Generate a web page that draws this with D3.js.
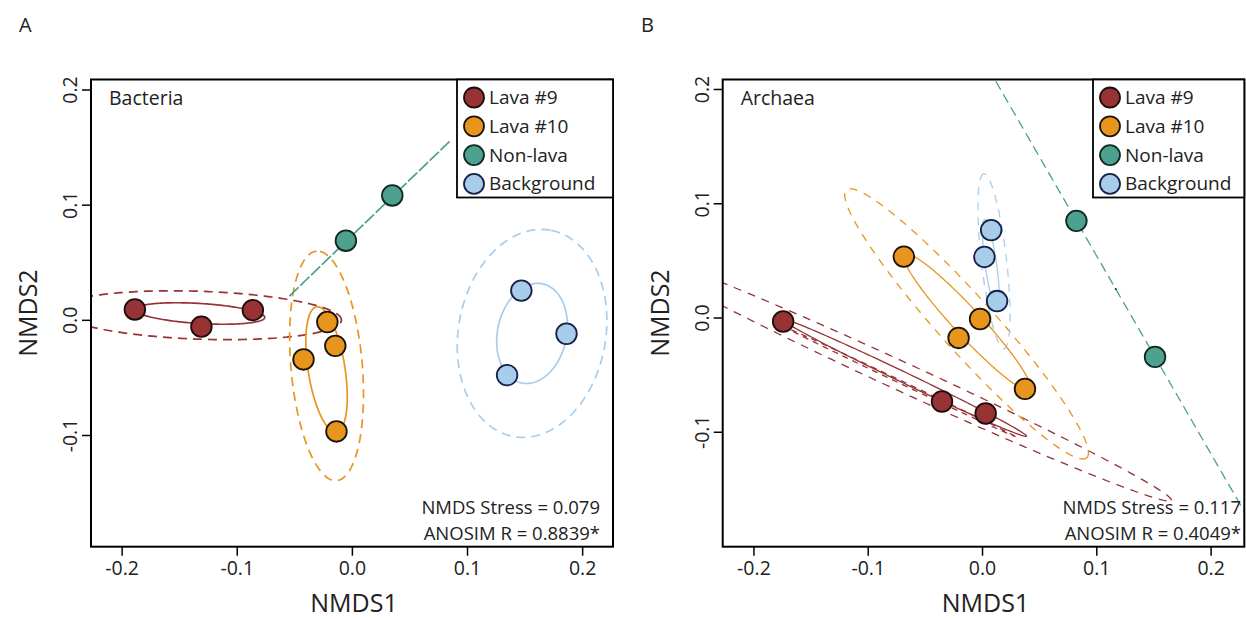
<!DOCTYPE html>
<html>
<head>
<meta charset="utf-8">
<script src="https://cdn.jsdelivr.net/npm/d3@7"></script>
<style>
body { margin: 0; background: #fff; }
text { font-family: "Open Sans", sans-serif; fill: #222; }
</style>
</head>
<body>
<svg id="chart" width="1246" height="619"></svg>
<script>
// groups and colours
var groups = ["Lava #9", "Lava #10", "Non-lava", "Background"];
var fills = ["#983335", "#E8951F", "#4EA08F", "#A8CDEB"];
var rims = ["#1c0c0c", "#1c1408", "#0f2a20", "#16204a"];

var xTickValues = [-0.2, -0.1, 0.0, 0.1, 0.2];
var xTickLabels = ["-0.2", "-0.1", "0.0", "0.1", "0.2"];
var yTickValues = [-0.1, 0.0, 0.1, 0.2];
var yTickLabels = ["-0.1", "0.0", "0.1", "0.2"];

// Bacteria NMDS scores, one list per group
var bactX = [[-0.1885, -0.1307, -0.0860], [-0.0213, -0.0144, -0.0420, -0.0134], [-0.0052, 0.0351], [0.1472, 0.1864, 0.1348]];
var bactY = [[0.0090, -0.0059, 0.0084], [-0.0019, -0.0226, -0.0344, -0.0969], [0.0687, 0.1080], [0.0254, -0.0121, -0.0480]];

// Archaea NMDS scores
var archX = [[-0.1740, -0.0350, 0.0032], [-0.0684, -0.0205, -0.0017, 0.0376], [0.0826, 0.1514], [0.0080, 0.0021, 0.0132]];
var archY = [[-0.0035, -0.0735, -0.0840], [0.0533, -0.0179, -0.0013, -0.0625], [0.0846, -0.0345], [0.0765, 0.0530, 0.0144]];

// ellipses: [centre x, centre y, semi-axis a, semi-axis b, angle in degrees]
var bactSdEll = [[-0.132, 0.0055, 0.0564, 0.0087, -3.5], [-0.022, -0.043, 0.055, 0.016, 99], null, [0.1565, -0.0118, 0.044, 0.030, 78]];
var bactCiEll = [[-0.132, 0.004, 0.123, 0.0208, -2], [-0.022, -0.040, 0.100, 0.031, 95], [0.015, 0.0875, 0.0972, 0, 44], [0.1565, -0.0118, 0.091, 0.064, 80]];

var archSdEll = [[-0.0683, -0.0525, 0.1189, 0.0046, -25.6], [-0.0131, -0.0039, 0.081, 0.012, -47.2], null, [0.0078, 0.046, 0.040, 0.005, 98]];
var archCiEll = [[-0.0683, -0.0525, 0.2576, 0.0125, -24.7], [-0.0135, -0.0056, 0.1574, 0.024, -48.1], [0.117, 0.025, 0.35, 0, -60], [0.0105, 0.0492, 0.0771, 0.011, 96.6]];
var archSeEll = [[-0.0696, -0.0573, 0.109, 0.0013, -25.4], null, null, null];
var archCentroid = [0.117, 0.025];

var svg = d3.select("#chart");

function ellipsePath(e, x, y) {
    var pts = [], th = e[4] * Math.PI / 180;
    for (var i = 0; i < 240; i++) {
        var t = i / 240 * 2 * Math.PI,
            u = e[2] * Math.cos(t),
            v = e[3] * Math.sin(t);
        pts.push([x(e[0] + u * Math.cos(th) - v * Math.sin(th)),
                  y(e[1] + u * Math.sin(th) + v * Math.cos(th))]);
    }
    return d3.line().curve(d3.curveLinearClosed)(pts);
}

function drawPanel(p) {
    var g = svg.append("g");
    var x = d3.scaleLinear().domain(p.xDomain).range([p.left, p.right]);
    var y = d3.scaleLinear().domain(p.yDomain).range([p.bottom, p.top]);

    g.append("text").attr("x", p.letterX).attr("y", 32)
        .style("font-size", "20px").text(p.letter);

    g.append("clipPath").attr("id", "clip" + p.letter)
        .append("rect").attr("x", p.left).attr("y", p.top)
        .attr("width", p.right - p.left).attr("height", p.bottom - p.top);

    var plot = g.append("g").attr("clip-path", "url(#clip" + p.letter + ")");

    // dashed confidence ellipses, then thin se ones, then solid sd ones
    p.ci.forEach(function(e, i) {
        if (!e) return;
        plot.append("path").attr("d", ellipsePath(e, x, y))
            .attr("fill", "none").attr("stroke", fills[i])
            .attr("stroke-width", p.lw).attr("stroke-dasharray", p.dash);
    });
    (p.se || []).forEach(function(e, i) {
        if (!e) return;
        plot.append("path").attr("d", ellipsePath(e, x, y))
            .attr("fill", "none").attr("stroke", fills[i])
            .attr("stroke-width", p.lw).attr("stroke-dasharray", "6,5");
    });
    p.sd.forEach(function(e, i) {
        if (!e) return;
        plot.append("path").attr("d", ellipsePath(e, x, y))
            .attr("fill", "none").attr("stroke", fills[i])
            .attr("stroke-width", p.lw);
    });

    if (p.centroid) {
        plot.append("circle").attr("cx", x(p.centroid[0])).attr("cy", y(p.centroid[1]))
            .attr("r", 1).attr("fill", "#222");
    }

    // points
    var pts = [];
    p.xs.forEach(function(xs, i) {
        xs.forEach(function(v, j) { pts.push({g: i, x: v, y: p.ys[i][j]}); });
    });
    plot.selectAll(".pt").data(pts).enter().append("circle")
        .attr("class", "pt")
        .attr("cx", function(d) { return x(d.x); })
        .attr("cy", function(d) { return y(d.y); })
        .attr("r", 10.3)
        .attr("fill", function(d) { return fills[d.g]; })
        .attr("stroke", function(d) { return rims[d.g]; })
        .attr("stroke-width", 1.8);

    // box
    g.append("rect").attr("x", p.left).attr("y", p.top)
        .attr("width", p.right - p.left).attr("height", p.bottom - p.top)
        .attr("fill", "none").attr("stroke", "#000").attr("stroke-width", 2);

    // axes
    var xa = g.append("g").attr("transform", "translate(0," + p.bottom + ")")
        .call(d3.axisBottom(x).tickValues(xTickValues).tickSize(9)
            .tickFormat(function(d, i) { return xTickLabels[i]; }));
    xa.select(".domain").remove();
    xa.selectAll("line").attr("stroke", "#000").attr("stroke-width", 1.5);
    xa.selectAll("text").attr("y", 28).attr("dy", 0)
        .style("font-size", "19.5px").style("font-family", "Open Sans").attr("fill", "#222");

    var ya = g.append("g").attr("transform", "translate(" + p.left + ",0)")
        .call(d3.axisLeft(y).tickValues(yTickValues).tickSize(9)
            .tickFormat(function(d, i) { return yTickLabels[i]; }));
    ya.select(".domain").remove();
    ya.selectAll("line").attr("stroke", "#000").attr("stroke-width", 1.5);
    ya.selectAll("text").attr("x", 0).attr("y", -14).attr("dy", 0)
        .attr("text-anchor", "middle").attr("transform", "rotate(-90)")
        .style("font-size", "19.5px").style("font-family", "Open Sans").attr("fill", "#222");

    g.append("text").attr("x", (p.left + p.right) / 2 + 2).attr("y", 612)
        .attr("text-anchor", "middle").style("font-size", "25px").text("NMDS1");
    g.append("text").attr("transform", "translate(" + (p.left - 54) + "," + ((p.top + p.bottom) / 2) + ") rotate(-90)")
        .attr("text-anchor", "middle").style("font-size", "25px").text("NMDS2");

    g.append("text").attr("x", p.left + 18).attr("y", p.top + 25)
        .style("font-size", "19.5px").text(p.title);

    // legend
    var lg = g.append("g");
    lg.append("rect").attr("x", p.legendLeft).attr("y", p.top)
        .attr("width", p.legendRight - p.legendLeft).attr("height", 118)
        .attr("fill", "#fff").attr("stroke", "#000").attr("stroke-width", 1.8);
    groups.forEach(function(name, i) {
        var cy = p.top + 18 + i * 28.8;
        lg.append("circle").attr("cx", p.legendLeft + 17).attr("cy", cy).attr("r", 10)
            .attr("fill", fills[i]).attr("stroke", rims[i]).attr("stroke-width", 1.8);
        lg.append("text").attr("x", p.legendLeft + 32).attr("y", cy + 6.5)
            .style("font-size", "19px").text(name);
    });

    g.append("text").attr("x", p.textRight).attr("y", 514).attr("text-anchor", "end")
        .style("font-size", "18.5px").text(p.stress);
    g.append("text").attr("x", p.textRight).attr("y", 540).attr("text-anchor", "end")
        .style("font-size", "18.5px").text(p.anosim);
}

drawPanel({
    letter: "A", letterX: 19, title: "Bacteria",
    left: 91, right: 613, top: 79.5, bottom: 546.7,
    xDomain: [-0.2266, 0.2268], yDomain: [-0.197, 0.2087],
    xs: bactX, ys: bactY, sd: bactSdEll, ci: bactCiEll,
    lw: 1.7, dash: "9,6",
    legendLeft: 457, legendRight: 613, textRight: 600,
    stress: "NMDS Stress = 0.079", anosim: "ANOSIM R = 0.8839*"
});

drawPanel({
    letter: "B", letterX: 641, title: "Archaea",
    left: 722.7, right: 1244.3, top: 79.5, bottom: 546.7,
    xDomain: [-0.2269, 0.2295], yDomain: [-0.2006, 0.2083],
    xs: archX, ys: archY, sd: archSdEll, ci: archCiEll, se: archSeEll,
    centroid: archCentroid,
    lw: 1.3, dash: "8,7",
    legendLeft: 1093, legendRight: 1244.3, textRight: 1241,
    stress: "NMDS Stress = 0.117", anosim: "ANOSIM R = 0.4049*"
});
</script>
</body>
</html>
